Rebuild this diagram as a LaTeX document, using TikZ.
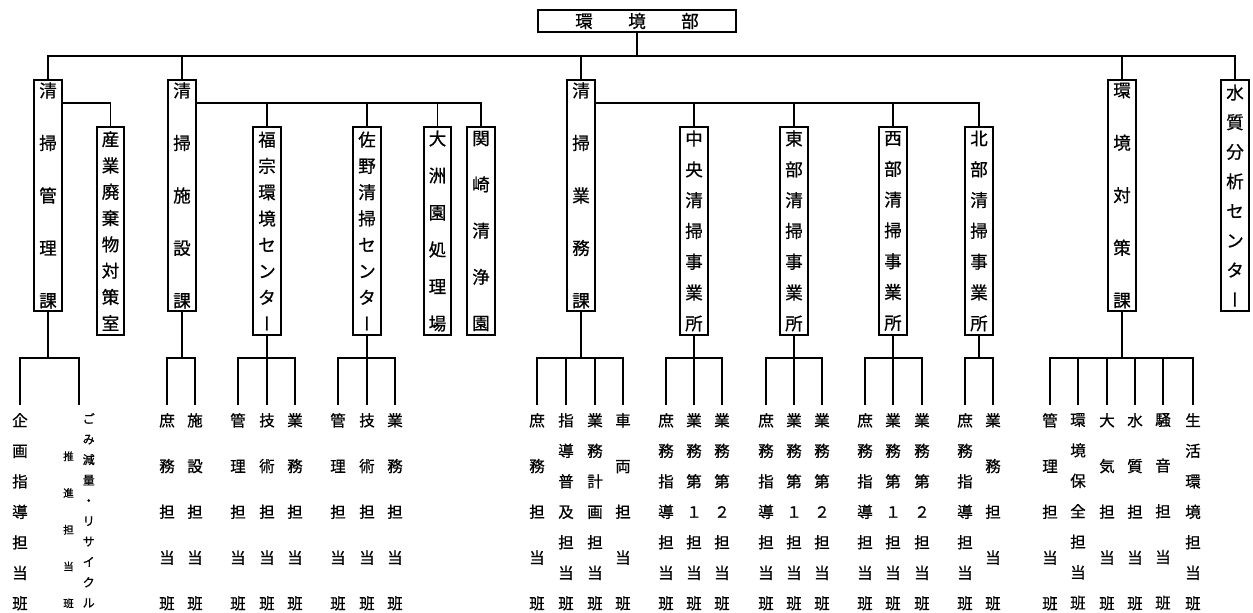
\documentclass[tikz,border=0pt]{standalone}
\usepackage{fontspec}
\setmainfont{Noto Sans CJK JP}[RawFeature={embolden=0.8}]
\newfontfamily\vertfont[RawFeature={+vert;embolden=0.8}]{Noto Sans CJK JP}
\newcommand\vcol[3]{\vbox{\fontsize{#1}{#2}\selectfont\halign{\hfil##\hfil\cr#3}}}
\newcommand\fiverow[5]{\vcol{15.5}{45.75}{#1\cr #2\cr #3\cr #4\cr #5\cr}}
\newcommand\sevenrow[7]{\vcol{15.5}{30.5}{#1\cr #2\cr #3\cr #4\cr #5\cr #6\cr #7\cr}}
\tikzset{
  unit/.style={draw, line width=1.9pt, inner sep=0pt, minimum width=27.5pt},
  tall/.style={unit, minimum height=231.5pt},
  short/.style={unit, minimum height=208.5pt},
  conn/.style={line width=1.9pt},
  col/.style={anchor=north, inner xsep=0pt, inner ysep=8pt},
}
\begin{document}
\begin{tikzpicture}[x=1pt,y=-1pt]
\useasboundingbox (0,0) rectangle (1253,613);
% top
\node[unit, minimum width=198.5pt, minimum height=22.5pt] (top) at (637,21)
  {\fontsize{17.5}{17.5}\selectfont 環\hspace{35.5pt}境\hspace{35.5pt}部};
% second level
\node[tall] (A) at (48,195.5) {\vcol{17.5}{52.5}{清\cr 掃\cr 管\cr 理\cr 課\cr}};
\node[short] (A2) at (110.5,231) {\vcol{17.5}{26.3}{産\cr 業\cr 廃\cr 棄\cr 物\cr 対\cr 策\cr 室\cr}};
\node[tall] (B) at (182,195.5) {\vcol{17.5}{52.5}{清\cr 掃\cr 施\cr 設\cr 課\cr}};
\node[short] (B1) at (267,231) {\vcol{17.5}{26.3}{福\cr 宗\cr 環\cr 境\cr セ\cr ン\cr タ\cr {\vertfont ー}\cr}};
\node[short] (B2) at (367,231) {\vcol{17.5}{26.3}{佐\cr 野\cr 清\cr 掃\cr セ\cr ン\cr タ\cr {\vertfont ー}\cr}};
\node[short] (B3) at (437.5,231) {\vcol{17.5}{37}{大\cr 洲\cr 園\cr 処\cr 理\cr 場\cr}};
\node[short] (B4) at (481,231) {\vcol{17.5}{46.25}{関\cr 崎\cr 清\cr 浄\cr 園\cr}};
\node[tall] (C) at (581,195.5) {\vcol{17.5}{52.5}{清\cr 掃\cr 業\cr 務\cr 課\cr}};
\node[short] (C1) at (694,231) {\vcol{17.5}{30.8}{中\cr 央\cr 清\cr 掃\cr 事\cr 業\cr 所\cr}};
\node[short] (C2) at (794,231) {\vcol{17.5}{30.8}{東\cr 部\cr 清\cr 掃\cr 事\cr 業\cr 所\cr}};
\node[short] (C3) at (893,231) {\vcol{17.5}{30.8}{西\cr 部\cr 清\cr 掃\cr 事\cr 業\cr 所\cr}};
\node[short] (C4) at (979,231) {\vcol{17.5}{30.8}{北\cr 部\cr 清\cr 掃\cr 事\cr 業\cr 所\cr}};
\node[tall] (D) at (1122,195.5) {\vcol{17.5}{52.5}{環\cr 境\cr 対\cr 策\cr 課\cr}};
\node[tall] (E) at (1235,195.5) {\vcol{17.5}{29.6}{水\cr 質\cr 分\cr 析\cr セ\cr ン\cr タ\cr {\vertfont ー}\cr}};
% top connectors
\coordinate (t0) at (637,56);
\draw[conn] (top.south) -- (t0);
\draw[conn] (A.north) |- (t0) -| (E.north);
\foreach \n in {B,C,D} \draw[conn] (\n.north) -- (\n.north |- t0);
\draw[conn] ([yshift=-24pt]A.north east) -| (A2.north);
\coordinate (bB) at ([yshift=-24pt]B.north east);
\draw[conn] (bB) -| (B4.north);
\foreach \n in {B1,B2,B3} \draw[conn] (\n.north) -- (\n.north |- bB);
\coordinate (bC) at ([yshift=-24pt]C.north east);
\draw[conn] (bC) -| (C4.north);
\foreach \n in {C1,C2,C3} \draw[conn] (\n.north) -- (\n.north |- bC);
% bottom columns
\coordinate (ylow) at (0,358);
\node[col] (a1) at (20,405) {\sevenrow 企画指導担当班};
\node[col] (a2) at (79,405) {\vcol{10.5}{36.75}{推\cr 進\cr 担\cr 当\cr 班\cr}\hspace{9pt}\vcol{12}{20.44}{ご\cr み\cr 減\cr 量\cr ・\cr リ\cr サ\cr イ\cr ク\cr ル\cr}};
\node[col] (b1) at (167,405) {\fiverow 庶務担当班};
\node[col] (b2) at (195,405) {\fiverow 施設担当班};
\node[col] (p1) at (238,405) {\fiverow 管理担当班};
\node[col] (p2) at (267,405) {\fiverow 技術担当班};
\node[col] (p3) at (295,405) {\fiverow 業務担当班};
\node[col] (q1) at (338,405) {\fiverow 管理担当班};
\node[col] (q2) at (367,405) {\fiverow 技術担当班};
\node[col] (q3) at (395,405) {\fiverow 業務担当班};
\node[col] (c1) at (537,405) {\fiverow 庶務担当班};
\node[col] (c2) at (566,405) {\sevenrow 指導普及担当班};
\node[col] (c3) at (595,405) {\sevenrow 業務計画担当班};
\node[col] (c4) at (623,405) {\fiverow 車両担当班};
\node[col] (r1) at (666,405) {\sevenrow 庶務指導担当班};
\node[col] (r2) at (694,405) {\sevenrow 業務第１担当班};
\node[col] (r3) at (722,405) {\sevenrow 業務第２担当班};
\node[col] (s1) at (766,405) {\sevenrow 庶務指導担当班};
\node[col] (s2) at (794,405) {\sevenrow 業務第１担当班};
\node[col] (s3) at (822,405) {\sevenrow 業務第２担当班};
\node[col] (u1) at (865,405) {\sevenrow 庶務指導担当班};
\node[col] (u2) at (893,405) {\sevenrow 業務第１担当班};
\node[col] (u3) at (922,405) {\sevenrow 業務第２担当班};
\node[col] (v1) at (965,405) {\sevenrow 庶務指導担当班};
\node[col] (v2) at (993,405) {\fiverow 業務担当班};
\node[col] (d1) at (1050,405) {\fiverow 管理担当班};
\node[col] (d2) at (1078,405) {\sevenrow 環境保全担当班};
\node[col] (d3) at (1107,405) {\fiverow 大気担当班};
\node[col] (d4) at (1135,405) {\fiverow 水質担当班};
\node[col] (d5) at (1163,405) {\fiverow 騒音担当班};
\node[col] (d6) at (1193,405) {\sevenrow 生活環境担当班};
% bottom connectors
\foreach \p/\l/\r in {A/a1/a2, B/b1/b2, B1/p1/p3, B2/q1/q3, C/c1/c4, C1/r1/r3, C2/s1/s3, C3/u1/u3, C4/v1/v2, D/d1/d6} {
  \coordinate (\p bar) at (\p.south |- ylow);
  \draw[conn] (\p.south) -- (\p bar);
  \draw[conn] (\l.north) |- (\p bar) -| (\r.north);
}
\foreach \m/\p in {p2/B1, q2/B2, c2/C, c3/C, r2/C1, s2/C2, u2/C3, d2/D, d3/D, d4/D, d5/D}
  \draw[conn] (\m.north) -- (\m.north |- \p bar);
\end{tikzpicture}
\end{document}
